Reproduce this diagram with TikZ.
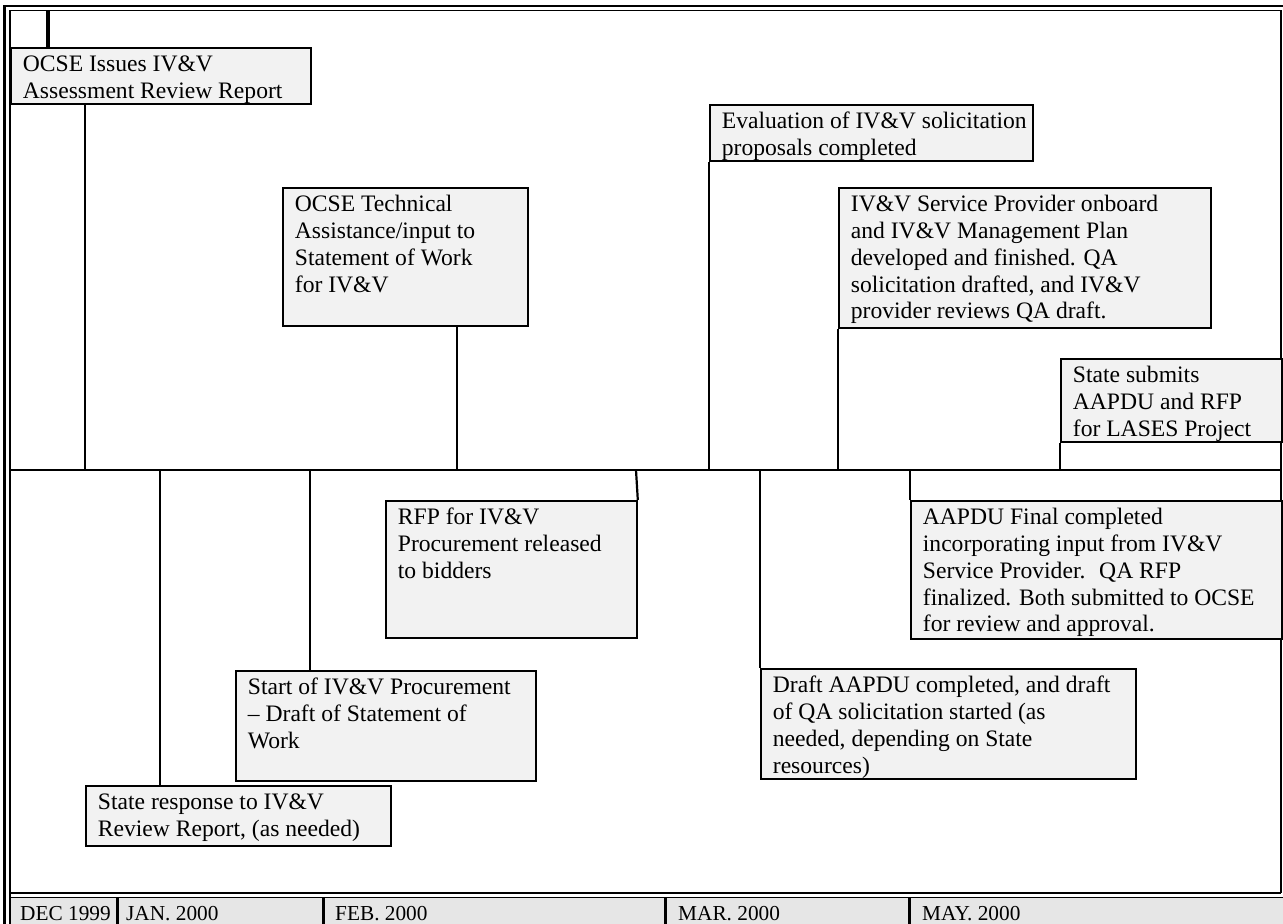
\documentclass[tikz,border=0pt]{standalone}
\usepackage{fontspec}
\setmainfont{Liberation Serif}
\definecolor{boxgray}{HTML}{F2F2F2}
\definecolor{dategray}{HTML}{E6E6E6}
\newcommand\fs{\fontsize{23.6}{26.8}\selectfont}
\newcommand\fm{\fontsize{21.3}{24}\selectfont}
% \evbox{name}{x1}{y1}{x2}{y2}{text}
\newcommand\evbox[6]{\node[evt] (#1) at (#2,#3) {\parbox[t][\dimexpr #5pt-#3pt-10pt\relax][t]{\dimexpr #4pt-#2pt-24pt\relax}{\begin{tabular}[t]{@{}l@{}}#6\end{tabular}}};}
\begin{document}
\begin{tikzpicture}[x=1pt,y=-1pt,
  evt/.style={draw, fill=boxgray, line width=1.8pt, anchor=north west, inner xsep=12pt, inner ysep=5pt, font=\fs},
  conn/.style={line width=2.2pt},
  frameouter/.style={line width=2.5pt},
  frameinner/.style={line width=1.2pt},
  monthsep/.style={line width=3pt},
  month/.style={anchor=base west, inner sep=0pt, font=\fm}]
\useasboundingbox (0,0) rectangle (1283,924);
% frame
\fill[dategray] (10.5,897) rectangle (1283,924);
\draw[frameouter] (4.5,924) -- (4.5,6) -- (1283,6);
\draw[frameinner] (10,924) -- (10,10.5) -- (1281,10.5) -- (1281,893);
\draw[frameouter] (10,893) -- (1281,893);
\draw[frameinner] (10,897.5) -- (1283,897.5);
% timeline
\coordinate (tl0) at (10,470);
\coordinate (tl1) at (1281,470);
\draw[conn] (tl0) -- (tl1);
% boxes above
\evbox{A}{10}{47}{310}{103}{OCSE Issues IV\&V\\Assessment Review Report}
\evbox{B}{282}{187}{527}{325}{OCSE Technical\\Assistance/input to\\Statement of Work\\for IV\&V}
\evbox{C}{709}{104}{1032}{160}{Evaluation of IV\&V solicitation\\proposals completed}
\evbox{D}{838}{187}{1210}{327}{IV\&V Service Provider onboard\\and IV\&V Management Plan\\developed and finished. QA\\solicitation drafted, and IV\&V\\provider reviews QA draft.}
\evbox{E}{1060}{358}{1281}{441}{State submits\\AAPDU and RFP\\for LASES Project}
% boxes below
\evbox{F}{385}{500}{636}{637}{RFP for IV\&V\\Procurement released\\to bidders}
\evbox{G}{910}{500}{1281}{638}{AAPDU Final completed\\incorporating input from IV\&V\\Service Provider.~ QA RFP\\finalized. Both submitted to OCSE\\for review and approval.}
\evbox{H}{235}{670}{535}{780}{Start of IV\&V Procurement\\– Draft of Statement of\\Work}
\evbox{I}{760}{668}{1135}{778}{Draft AAPDU completed, and draft\\of QA solicitation started (as\\needed, depending on State\\resources)}
\evbox{J}{85}{785}{390}{845}{State response to IV\&V\\Review Report, (as needed)}
% timeline points
\coordinate (pA) at (85,470);
\coordinate (pB) at (457,470);
\coordinate (pC) at (709,470);
\coordinate (pD) at (838,470);
\coordinate (pE) at (1060,470);
\coordinate (pJ) at (160,470);
\coordinate (pH) at (310,470);
\coordinate (pF) at (636,470);
\coordinate (pI) at (760,470);
\coordinate (pG) at (910,470);
\coordinate (topA) at (48,10.5);
% connectors
\draw[line width=3.5pt] (topA) -- (topA |- A.north);
\draw[conn] (A.south -| pA) -- (pA);
\draw[conn] (B.south -| pB) -- (pB);
\draw[conn] (C.south west) -- (pC);
\draw[conn] (D.south west) -- (pD);
\draw[conn] (E.south west) -- (pE);
\draw[conn] (pJ) -- (J.north -| pJ);
\draw[conn] (pH) -- (H.north -| pH);
\draw[conn] (pF) -- (F.north east);
\draw[conn] (pI) -- (I.north west);
\draw[conn] (pG) -- (G.north west);
% months
\draw[monthsep] (117,897.5) -- (117,924);
\draw[monthsep] (323,897.5) -- (323,924);
\draw[monthsep] (665,897.5) -- (665,924);
\draw[monthsep] (909,897.5) -- (909,924);
\node[month] (m1) at (20,920) {DEC 1999};
\node[month] (m2) at (126,920) {JAN. 2000};
\node[month] (m3) at (335,920) {FEB. 2000};
\node[month] (m4) at (678,920) {MAR. 2000};
\node[month] (m5) at (922,920) {MAY. 2000};
\end{tikzpicture}
\end{document}
